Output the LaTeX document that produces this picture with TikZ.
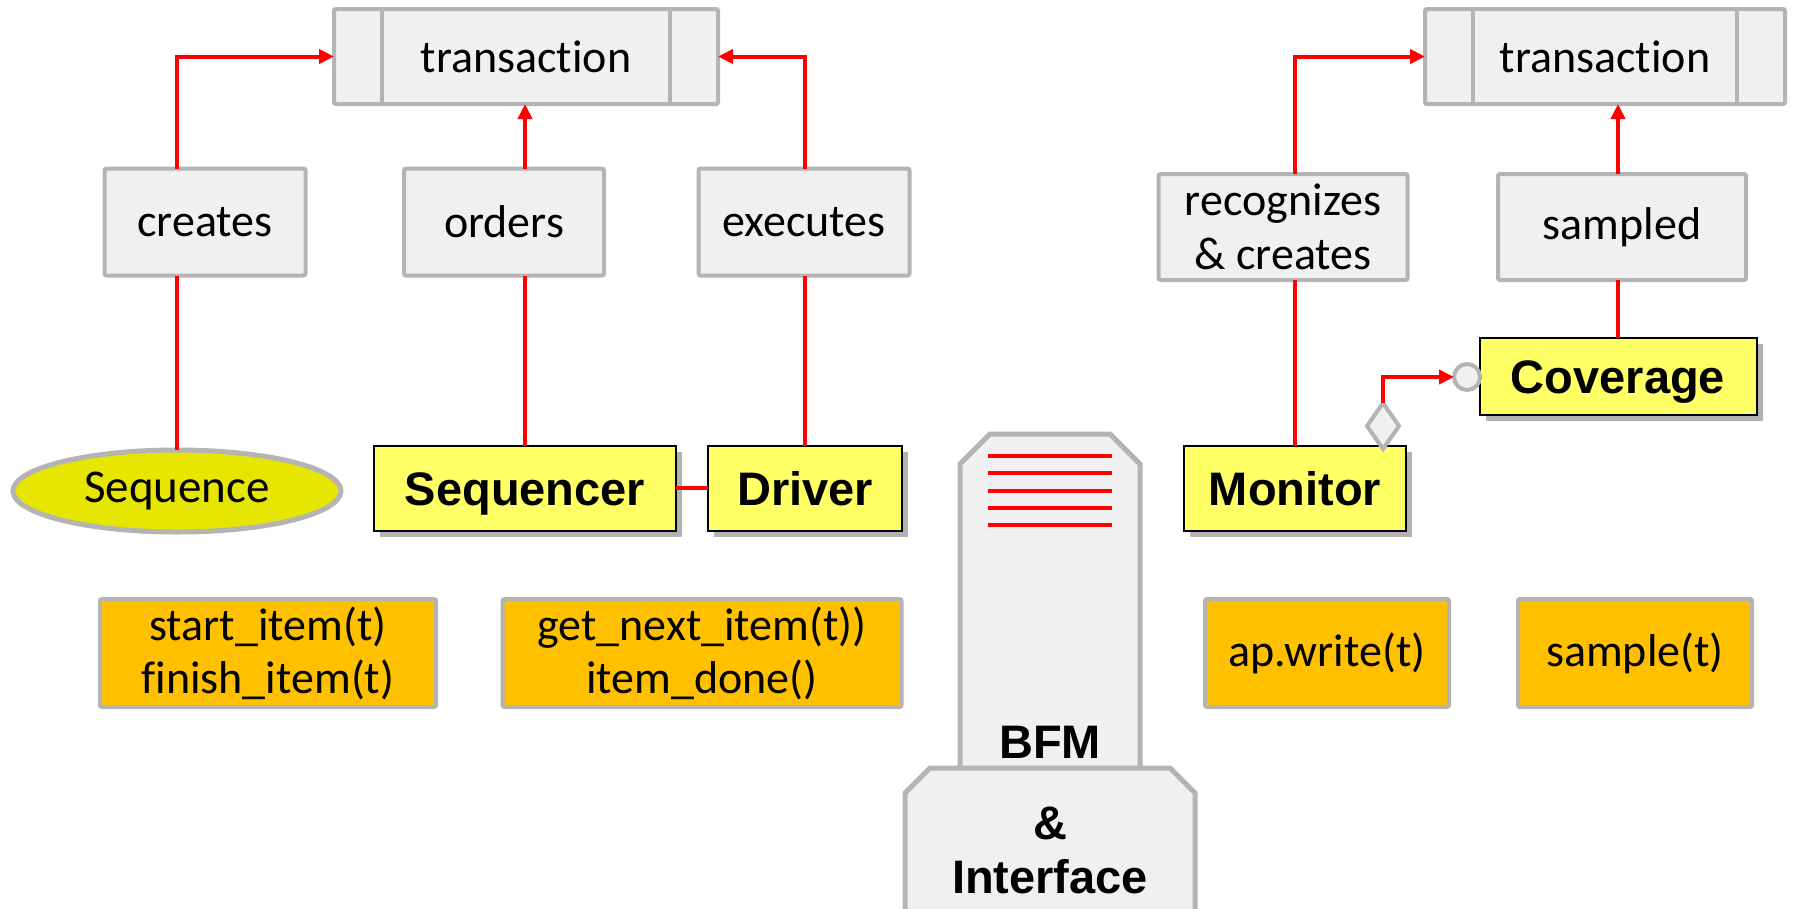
\documentclass[tikz,border=0pt]{standalone}
\usepackage{fontspec}
\setmainfont{Carlito}[Ligatures={NoCommon}]
\newfontfamily\arialfont{Liberation Sans}
\usetikzlibrary{arrows.meta,shapes.geometric,shadows,calc}
\definecolor{bgray}{RGB}{180,180,180}
\definecolor{lgray}{RGB}{240,240,240}
\definecolor{cyellow}{RGB}{255,255,102}
\definecolor{seqyellow}{RGB}{230,230,0}
\definecolor{corange}{RGB}{255,192,0}
\definecolor{cred}{RGB}{255,0,0}
\begin{document}
\begin{tikzpicture}[x=1pt,y=-1pt,
  lbl/.style={draw=bgray, line width=4pt, fill=lgray, rounded corners=2pt, align=center,
    font=\fontsize{46}{54}\selectfont, inner sep=0pt, outer sep=0pt},
  comp/.style={draw=black, line width=2pt, fill=cyellow,
    drop shadow={shadow xshift=6pt,shadow yshift=-6pt,opacity=0.3,fill=black},
    font=\arialfont\bfseries\fontsize{47}{54}\selectfont, inner sep=0pt, outer sep=0pt,
    text height=34pt, text depth=0pt},
  meth/.style={draw=bgray, line width=4pt, fill=corange, rounded corners=2pt, align=center,
    font=\fontsize{46}{53}\selectfont, inner sep=0pt, outer sep=0pt},
  conn/.style={draw=cred, line width=4pt},
  arr/.style={-{Triangle[length=15pt,width=14pt]}},
  bfmtext/.style={font=\arialfont\bfseries\fontsize{47}{54}\selectfont, inner sep=0pt}
]
\useasboundingbox (0,0) rectangle (1817,908);
\clip (0,0) rectangle (1817,908);

% transactions
\node[lbl, minimum width=384pt, minimum height=95pt] (trL) at (526,56.5) {transaction};
\node[lbl, minimum width=360pt, minimum height=95pt] (trR) at (1605,56.5) {transaction};
\foreach \n in {trL,trR}{
  \draw[bgray, line width=4pt] ($(\n.north west)+(48,0)$) -- ($(\n.south west)+(48,0)$);
  \draw[bgray, line width=4pt] ($(\n.north east)+(-48,0)$) -- ($(\n.south east)+(-48,0)$);
}

% labels
\node[lbl, minimum width=201pt, minimum height=107pt] (cre) at (205,222) {creates};
\node[lbl, minimum width=200pt, minimum height=107pt] (ord) at (504,222) {orders};
\node[lbl, minimum width=211pt, minimum height=107pt] (exe) at (804,222) {executes};
\node[lbl, minimum width=249pt, minimum height=106pt] (rec) at (1283,227) {recognizes\\\& creates};
\node[lbl, minimum width=248pt, minimum height=106pt] (smp) at (1622,227) {sampled};

% components
\node[ellipse, draw=bgray, line width=5pt, fill=seqyellow, minimum width=328pt, minimum height=82pt,
  inner sep=0pt, outer sep=0pt, font=\fontsize{47}{54}\selectfont] (seq) at (177,491)
  {Sequence};
\node[comp, minimum width=302pt, minimum height=85pt] (sqr) at (525,488) {Sequencer};
\node[comp, minimum width=194pt, minimum height=85pt] (drv) at (805,488) {Driver};
\node[comp, minimum width=222pt, minimum height=85pt] (mon) at (1295,488) {Monitor};
\node[comp, minimum width=277pt, minimum height=77pt] (cov) at (1618,376) {Coverage};

% methods
\node[meth, minimum width=336pt, minimum height=108pt] (m1) at (268,653) {start\_item(t)\\finish\_item(t)};
\node[meth, minimum width=399pt, minimum height=108pt] (m2) at (702,653) {get\_next\_item(t))\\item\_done()};
\node[meth, minimum width=244pt, minimum height=108pt] (m3) at (1327,653) {ap.write(t)};
\node[meth, minimum width=234pt, minimum height=108pt] (m4) at (1635,653) {sample(t)};

% BFM
\draw[bgray, line width=5pt, fill=lgray] (960,790) -- (960,464) -- (990,434) -- (1110,434) -- (1140,464) -- (1140,790);
\foreach \yy in {456,473,491,508,525}
  \draw[cred, line width=4pt] (988,\yy) -- (1112,\yy);
\draw[bgray, line width=5pt, fill=lgray] (905,930) -- (905,793) -- (930,768) -- (1170,768) -- (1195,793) -- (1195,930);
\node[bfmtext] (bfm) at (1050,742) {BFM};
\node[bfmtext] (amp) at (1050,823) {\&};
\node[bfmtext] (itf) at (1050,877) {Interface};

% diamond and circle
\node[diamond, draw=bgray, line width=4pt, fill=lgray, minimum width=32pt, minimum height=46pt,
  inner sep=0pt, outer sep=0pt] (dia) at (1383,426) {};
\node[circle, draw=bgray, line width=4pt, fill=lgray, minimum size=26pt, inner sep=0pt, outer sep=0pt]
  (cir) at (1467,377) {};

% connectors
\draw[conn] (seq.north) -- (seq.north |- cre.south);
\draw[conn, arr] (seq.north |- cre.north) |- (trL.west);
\draw[conn] (sqr.north) -- (sqr.north |- ord.south);
\draw[conn, arr] (sqr.north |- ord.north) -- (sqr.north |- trL.south);
\draw[conn] (drv.north) -- (drv.north |- exe.south);
\draw[conn, arr] (drv.north |- exe.north) |- (trL.east);
\draw[conn] (sqr.east) -- (drv.west);
\draw[conn] (mon.north) -- (mon.north |- rec.south);
\draw[conn, arr] (mon.north |- rec.north) |- (trR.west);
\draw[conn] (cov.north) -- (cov.north |- smp.south);
\draw[conn, arr] (cov.north |- smp.north) -- (cov.north |- trR.south);
\draw[conn, arr] (dia.north) |- (cir.west);
\end{tikzpicture}
\end{document}
